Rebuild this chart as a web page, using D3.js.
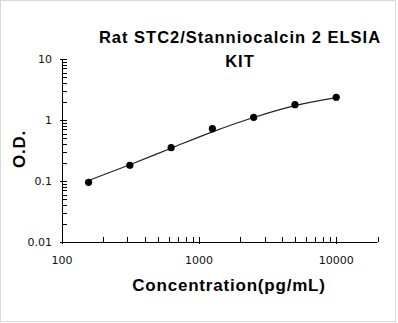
<!DOCTYPE html>
<html>
<head>
<meta charset="utf-8">
<script src="https://d3js.org/d3.v7.min.js"></script>
<style>
  body { margin: 0; background: #fff; }
  svg { display: block; }
</style>
</head>
<body>
<script>
var width = 398, height = 323;

// standard curve: concentration (pg/mL) vs O.D.
var conc = [156.25, 312.5, 625, 1250, 2500, 5000, 10000];
var od = [0.095, 0.181, 0.352, 0.72, 1.107, 1.78, 2.36];
// fitted curve values drawn as the line
var fitOd = [0.102, 0.185, 0.345, 0.64, 1.1, 1.72, 2.33];
var xTicks = [100, 1000, 10000];
var yTicks = [0.01, 0.1, 1, 10];

var svg = d3.select('body').append('svg').attr('width', width).attr('height', height);

// outer frame
svg.append('rect').attr('x', 0.5).attr('y', 0.5).attr('width', width - 3).attr('height', height - 2)
  .attr('fill', 'none').attr('stroke', '#d9d9d9');

var x = d3.scaleLog().domain([100, 20000]).range([62, 377.5]);
var y = d3.scaleLog().domain([0.01, 10]).range([242, 59]);

var g = svg.append('g');

// minor ticks, log style
function minors(domain) {
  var out = [];
  for (var d = domain[0]; d < domain[1]; d *= 10) {
    for (var k = 2; k <= 9; k++) if (d * k <= domain[1]) out.push(d * k);
  }
  return out;
}

// y axis
g.append('line').attr('x1', 62).attr('x2', 62).attr('y1', y(10)).attr('y2', y(0.01))
  .attr('stroke', '#000').attr('shape-rendering', 'crispEdges');
g.selectAll('.ymin').data(minors([0.01, 10])).join('line')
  .attr('x1', 62).attr('x2', 67).attr('y1', function(d) { return Math.round(y(d)) + 0.5; })
  .attr('y2', function(d) { return Math.round(y(d)) + 0.5; })
  .attr('stroke', '#000');
g.selectAll('.ymaj').data(yTicks).join('line')
  .attr('x1', 60).attr('x2', 67).attr('y1', function(d) { return Math.round(y(d)) + 0.5; })
  .attr('y2', function(d) { return Math.round(y(d)) + 0.5; })
  .attr('stroke', '#000');
g.selectAll('.ylab').data(yTicks).join('text')
  .attr('x', 52).attr('y', function(d) { return y(d) + 4; })
  .attr('text-anchor', 'end')
  .style('font', '11px "DejaVu Sans", sans-serif')
  .attr('fill', '#111')
  .text(function(d) { return d3.format('')(d); });

// x axis
g.append('line').attr('x1', x(100)).attr('x2', x(20000)).attr('y1', 242.5).attr('y2', 242.5)
  .attr('stroke', '#000');
g.selectAll('.xmin').data(minors([100, 20000])).join('line')
  .attr('x1', function(d) { return Math.round(x(d)) + 0.5; })
  .attr('x2', function(d) { return Math.round(x(d)) + 0.5; })
  .attr('y1', 242).attr('y2', 237)
  .attr('stroke', '#000');
g.selectAll('.xmaj').data(xTicks).join('line')
  .attr('x1', function(d) { return Math.round(x(d)) + 0.5; })
  .attr('x2', function(d) { return Math.round(x(d)) + 0.5; })
  .attr('y1', 244).attr('y2', 237)
  .attr('stroke', '#000');
g.selectAll('.xlab').data(xTicks).join('text')
  .attr('x', function(d) { return x(d); }).attr('y', 264)
  .attr('text-anchor', 'middle')
  .style('font', '11px "DejaVu Sans", sans-serif')
  .attr('fill', '#111')
  .text(function(d) { return d; });

// fitted line
var pts = conc.map(function(c, i) { return [c, fitOd[i]]; });
var line = d3.line().x(function(d) { return x(d[0]); }).y(function(d) { return y(d[1]); })
  .curve(d3.curveMonotoneX);
svg.append('path').attr('d', line(pts)).attr('fill', 'none')
  .attr('stroke', '#222').attr('stroke-width', 1.2);

// points
svg.selectAll('circle').data(conc).join('circle')
  .attr('cx', function(d) { return x(d); })
  .attr('cy', function(d, i) { return y(od[i]); })
  .attr('r', 3.6).attr('fill', '#000');

// titles
var title = svg.append('text').attr('text-anchor', 'middle')
  .style('font', 'bold 16.5px "Liberation Sans", Arial, sans-serif')
  .style('letter-spacing', '1px');
title.append('tspan').attr('x', 240).attr('y', 43).text('Rat STC2/Stanniocalcin 2 ELSIA');
title.append('tspan').attr('x', 240).attr('y', 67).text('KIT');

svg.append('text').attr('x', 229).attr('y', 291).attr('text-anchor', 'middle')
  .style('font', 'bold 17px "Liberation Sans", Arial, sans-serif')
  .style('letter-spacing', '0.8px')
  .text('Concentration(pg/mL)');

svg.append('text').attr('transform', 'translate(25,149) rotate(-90)')
  .attr('text-anchor', 'middle')
  .style('font', 'bold 17px "Liberation Sans", Arial, sans-serif')
  .style('letter-spacing', '0.8px')
  .text('O.D.');
</script>
</body>
</html>
